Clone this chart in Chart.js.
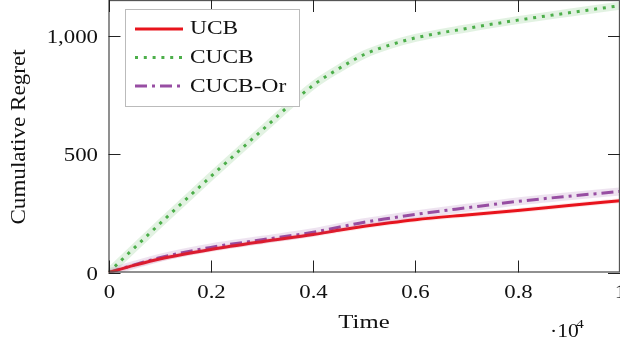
<!DOCTYPE html>
<html>
<head>
<meta charset="utf-8">
<script src="https://cdn.jsdelivr.net/npm/chart.js@4.4.0/dist/chart.umd.min.js"></script>
<style>
  html, body { margin: 0; padding: 0; background: #fff; }
  #wrap { width: 620px; height: 343px; position: relative; }
</style>
</head>
<body>
<div id="wrap"><canvas id="regretChart"></canvas></div>
<script>
// time in units of 10^4
const times = [0, 0.05, 0.1, 0.2, 0.3, 0.4, 0.45, 0.5, 0.55, 0.6, 0.7, 0.8, 0.9, 1.0];
const ucb = [0, 30, 57, 97, 130, 160, 178, 195, 210, 223, 243, 262, 283, 303];
const cucb = [0, 103, 205, 405, 600, 790, 860, 920, 960, 990, 1030, 1065, 1096, 1126];
const cucbOr = [0, 32, 62, 106, 138, 170, 191, 212, 229, 245, 273, 300, 322, 342];
const xTicks = [0, 0.2, 0.4, 0.6, 0.8, 1];
const yTicks = [0, 500, 1000];

const serif = '"Liberation Serif", "DejaVu Serif", serif';
const pts = arr => arr.map((v, i) => ({ x: times[i], y: v }));

const series = [
  { label: 'UCB', data: ucb, color: '#e8141c', band: 'rgba(232,20,28,0.10)', dash: [] },
  { label: 'CUCB', data: cucb, color: '#4daf4a', band: 'rgba(77,175,74,0.16)', dash: [3, 5.8] },
  { label: 'CUCB-Or', data: cucbOr, color: '#984ea3', band: 'rgba(152,78,163,0.16)', dash: [12, 5, 3, 5] }
];

const datasets = [];
// light confidence bands underneath
series.forEach(s => {
  datasets.push({
    label: s.label + ' band',
    data: pts(s.data),
    borderColor: s.band,
    borderWidth: s.label === 'UCB' ? 5 : 8,
    pointRadius: 0,
    cubicInterpolationMode: 'monotone',
    fill: false
  });
});
series.forEach(s => {
  datasets.push({
    label: s.label,
    data: pts(s.data),
    borderColor: s.color,
    borderWidth: 3,
    borderDash: s.dash,
    borderCapStyle: 'butt',
    pointRadius: 0,
    cubicInterpolationMode: 'monotone',
    fill: false
  });
});

// text a bit wider than the font, like the stretched TeX figure
function label(ctx, text, x, y, size, align, sx) {
  ctx.save();
  ctx.font = size + 'px ' + serif;
  ctx.textAlign = align;
  ctx.textBaseline = 'alphabetic';
  ctx.translate(x, y);
  ctx.scale(sx || 1.2, 1);
  ctx.fillText(text, 0, 0);
  ctx.restore();
}

// frame, inward ticks, tick labels, legend and titles, pgfplots style
const decor = {
  id: 'decor',
  afterDraw(chart) {
    const { ctx, chartArea: a, scales } = chart;
    ctx.save();
    ctx.strokeStyle = '#555';
    ctx.lineWidth = 1.3;
    ctx.strokeRect(a.left + 0.5, a.top + 0.5, a.right - a.left - 1, a.bottom - a.top - 1);
    ctx.strokeStyle = '#222';
    ctx.lineWidth = 1;
    ctx.fillStyle = '#111';
    xTicks.forEach(t => {
      const x = Math.round(scales.x.getPixelForValue(t)) + 0.5;
      ctx.beginPath();
      ctx.moveTo(x, a.bottom); ctx.lineTo(x, a.bottom - 12);
      ctx.moveTo(x, a.top); ctx.lineTo(x, a.top + 12);
      ctx.stroke();
      label(ctx, String(t), x, 297.5, 19, 'center', 1.2);
    });
    yTicks.forEach(t => {
      const y = Math.round(scales.y.getPixelForValue(t)) + 0.5;
      ctx.beginPath();
      ctx.moveTo(a.left, y); ctx.lineTo(a.left + 12, y);
      ctx.moveTo(a.right, y); ctx.lineTo(a.right - 12, y);
      ctx.stroke();
      label(ctx, t.toLocaleString('en-US'), 98, y + 6.5, 19, 'right', 1.2);
    });

    // legend
    const lx = 125, ly = 9, lw = 174, lh = 97;
    ctx.fillStyle = '#fff';
    ctx.fillRect(lx, ly, lw, lh);
    ctx.strokeStyle = '#bbb';
    ctx.lineWidth = 1;
    ctx.strokeRect(lx + 0.5, ly + 0.5, lw, lh);
    const lineY = [29, 57.5, 86];
    const textY = [34, 63, 91.5];
    series.forEach((s, i) => {
      ctx.strokeStyle = s.color;
      ctx.lineWidth = 3;
      ctx.setLineDash(s.dash);
      ctx.beginPath();
      ctx.moveTo(135, lineY[i]); ctx.lineTo(183, lineY[i]);
      ctx.stroke();
      ctx.setLineDash([]);
      ctx.fillStyle = '#111';
      label(ctx, s.label, 190, textY[i], 19.5, 'left', 1.2);
    });

    // axis titles
    ctx.fillStyle = '#111';
    label(ctx, 'Time', 364, 328, 19, 'center', 1.3);
    ctx.save();
    ctx.font = '21px ' + serif;
    ctx.textAlign = 'center';
    ctx.translate(25, 137);
    ctx.rotate(-Math.PI / 2);
    ctx.scale(1.1, 1);
    ctx.fillText('Cumulative Regret', 0, 0);
    ctx.restore();

    // axis multiplier
    label(ctx, '\u00b710', 550, 337, 18, 'left', 1.2);
    label(ctx, '4', 576, 328, 13, 'left', 1.2);
    ctx.restore();
  }
};

const ctx = document.getElementById('regretChart').getContext('2d');
const regretChart = new Chart(ctx, {
  type: 'line',
  data: { datasets },
  options: {
    responsive: true,
    maintainAspectRatio: false,
    animation: false,
    layout: { padding: 0 },
    plugins: { legend: { display: false }, tooltip: { enabled: false } },
    scales: {
      x: {
        type: 'linear',
        min: 0,
        max: 1,
        afterFit: scale => {
          scale.height = 70.5;
          scale.paddingLeft = 0; scale.paddingRight = 0;
        },
        grid: { display: false },
        border: { display: false },
        ticks: { display: false }
      },
      y: {
        min: 0,
        max: 1150,
        afterFit: scale => {
          scale.width = 108.5;
          scale.paddingTop = 0; scale.paddingBottom = 0;
        },
        grid: { display: false },
        border: { display: false },
        ticks: { display: false }
      }
    }
  },
  plugins: [decor]
});
</script>
</body>
</html>
